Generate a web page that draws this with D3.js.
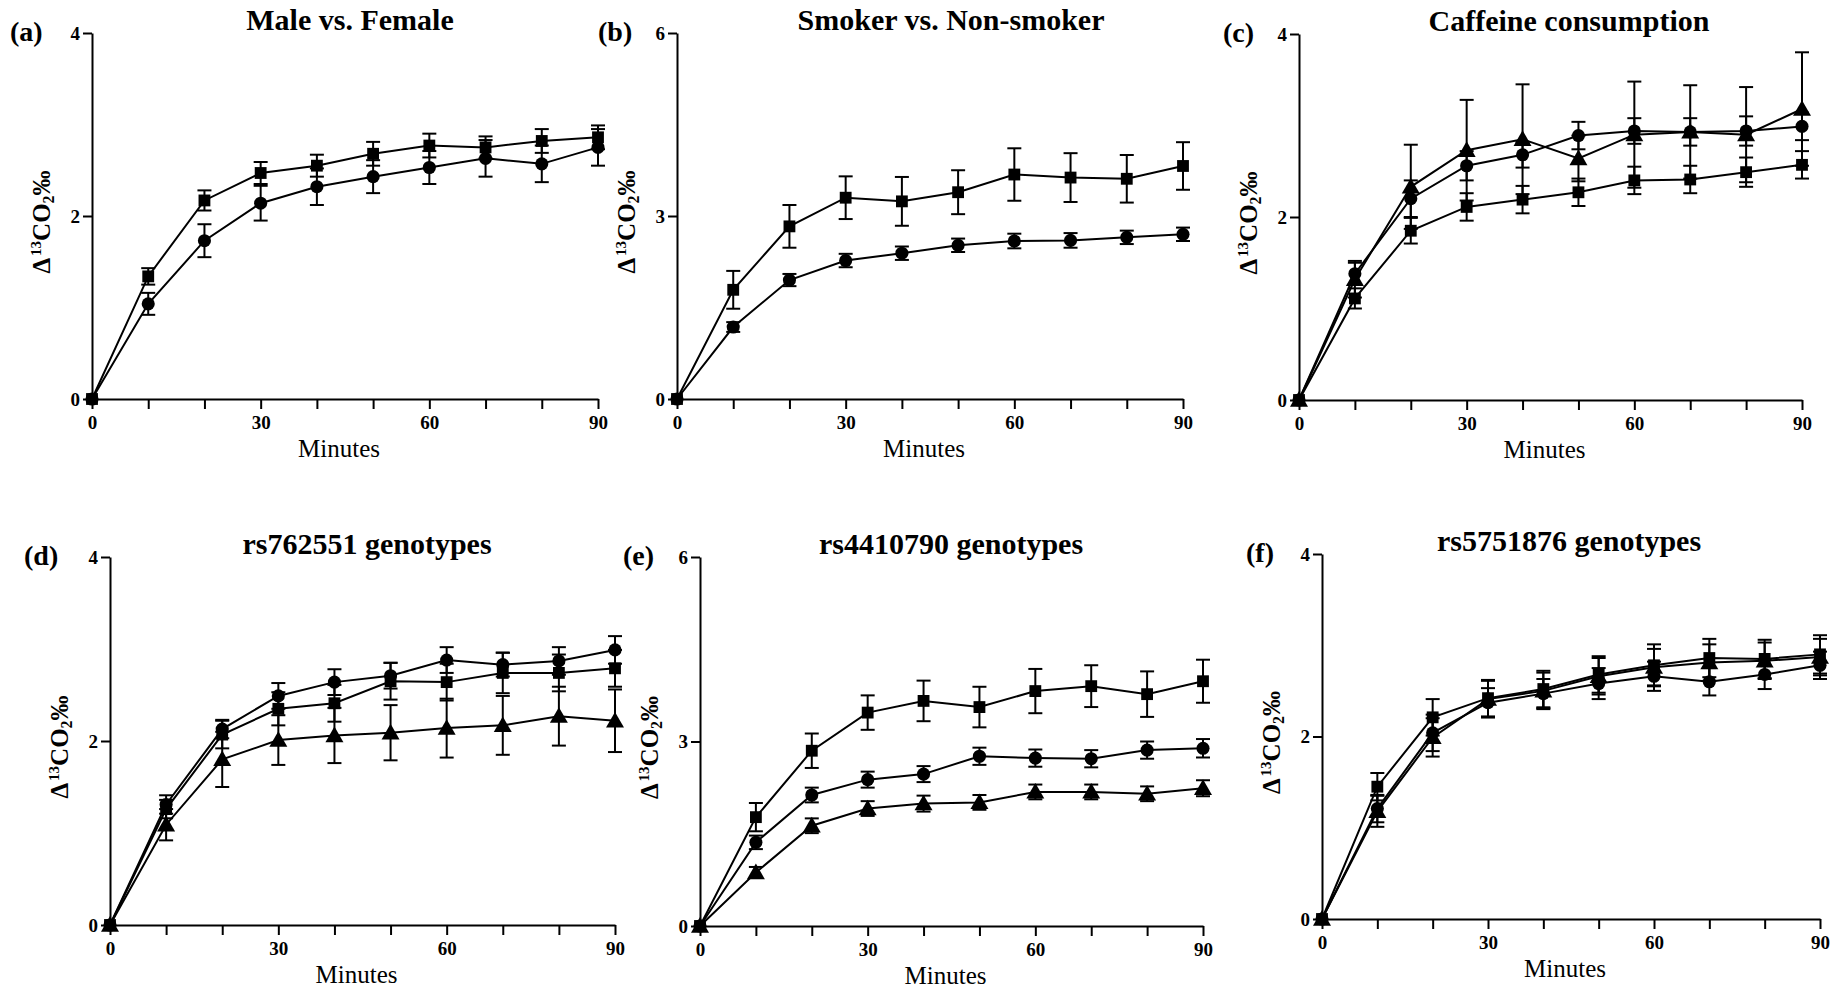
<!DOCTYPE html>
<html>
<head>
<meta charset="utf-8">
<script src="https://cdn.jsdelivr.net/npm/d3@7"></script>
<style>
  body { margin: 0; background: #fff; }
  text { font-family: "Liberation Serif", "Times New Roman", serif; }
</style>
</head>
<body>
<svg id="chart" width="1846" height="994"></svg>
<script>
// TIME POINTS (minutes)
const minutes = [0, 10, 20, 30, 40, 50, 60, 70, 80, 90];

// (a) Male vs. Female
const aSquareMean = [0, 1.34, 2.17, 2.47, 2.55, 2.68, 2.77, 2.75, 2.82, 2.86];
const aSquareErr  = [0, 0.09, 0.11, 0.12, 0.12, 0.13, 0.13, 0.12, 0.13, 0.13];
const aCircleMean = [0, 1.04, 1.73, 2.14, 2.32, 2.43, 2.53, 2.63, 2.57, 2.75];
const aCircleErr  = [0, 0.12, 0.18, 0.19, 0.20, 0.18, 0.18, 0.20, 0.20, 0.20];

// (b) Smoker vs. Non-smoker
const bSquareMean = [0, 1.79, 2.83, 3.30, 3.24, 3.39, 3.68, 3.63, 3.61, 3.82];
const bSquareErr  = [0, 0.31, 0.35, 0.35, 0.40, 0.36, 0.43, 0.40, 0.39, 0.39];
const bCircleMean = [0, 1.18, 1.95, 2.27, 2.39, 2.52, 2.59, 2.60, 2.65, 2.70];
const bCircleErr  = [0, 0.08, 0.10, 0.11, 0.11, 0.11, 0.12, 0.12, 0.11, 0.11];

// (c) Caffeine consumption
const cSquareMean   = [0, 1.11, 1.85, 2.11, 2.19, 2.27, 2.40, 2.41, 2.49, 2.57];
const cSquareErr    = [0, 0.11, 0.14, 0.15, 0.15, 0.15, 0.15, 0.15, 0.16, 0.15];
const cCircleMean   = [0, 1.38, 2.20, 2.56, 2.68, 2.89, 2.94, 2.93, 2.94, 2.99];
const cCircleErr    = [0, 0.12, 0.20, 0.16, 0.14, 0.15, 0.14, 0.15, 0.16, 0.15];
const cTriangleMean = [0, 1.32, 2.33, 2.73, 2.85, 2.64, 2.90, 2.93, 2.90, 3.18];
const cTriangleErr  = [0, 0.20, 0.46, 0.55, 0.60, 0.25, 0.58, 0.51, 0.52, 0.62];

// (d) rs762551 genotypes
const dCircleMean   = [0, 1.31, 2.13, 2.49, 2.64, 2.71, 2.88, 2.83, 2.87, 2.99];
const dCircleErr    = [0, 0.10, 0.10, 0.14, 0.14, 0.14, 0.14, 0.13, 0.15, 0.15];
const dSquareMean   = [0, 1.26, 2.07, 2.35, 2.41, 2.65, 2.64, 2.74, 2.74, 2.79];
const dSquareErr    = [0, 0.10, 0.15, 0.18, 0.20, 0.20, 0.20, 0.22, 0.20, 0.20];
const dTriangleMean = [0, 1.09, 1.80, 2.01, 2.06, 2.09, 2.14, 2.17, 2.27, 2.22];
const dTriangleErr  = [0, 0.17, 0.30, 0.27, 0.30, 0.30, 0.32, 0.32, 0.32, 0.34];

// (e) rs4410790 genotypes
const eSquareMean   = [0, 1.77, 2.85, 3.47, 3.66, 3.56, 3.82, 3.90, 3.77, 3.98];
const eSquareErr    = [0, 0.23, 0.28, 0.28, 0.33, 0.33, 0.36, 0.34, 0.37, 0.35];
const eCircleMean   = [0, 1.36, 2.13, 2.38, 2.47, 2.76, 2.73, 2.72, 2.86, 2.89];
const eCircleErr    = [0, 0.11, 0.12, 0.13, 0.13, 0.14, 0.14, 0.14, 0.14, 0.15];
const eTriangleMean = [0, 0.87, 1.63, 1.91, 1.99, 2.01, 2.18, 2.18, 2.15, 2.24];
const eTriangleErr  = [0, 0.09, 0.12, 0.12, 0.13, 0.12, 0.12, 0.12, 0.12, 0.13];

// (f) rs5751876 genotypes
const fSquareMean   = [0, 1.45, 2.21, 2.42, 2.52, 2.68, 2.78, 2.86, 2.85, 2.90];
const fSquareErr    = [0, 0.15, 0.20, 0.20, 0.20, 0.20, 0.23, 0.21, 0.21, 0.21];
const fCircleMean   = [0, 1.21, 2.04, 2.37, 2.47, 2.58, 2.66, 2.60, 2.68, 2.78];
const fCircleErr    = [0, 0.15, 0.20, 0.16, 0.16, 0.17, 0.16, 0.15, 0.16, 0.15];
const fTriangleMean = [0, 1.18, 1.99, 2.41, 2.50, 2.66, 2.76, 2.81, 2.83, 2.87];
const fTriangleErr  = [0, 0.17, 0.21, 0.20, 0.20, 0.20, 0.20, 0.20, 0.20, 0.20];

// TICK LABELS
const xTicks = [0, 10, 20, 30, 40, 50, 60, 70, 80, 90];
const xLabelled = [0, 30, 60, 90];

// PANEL LAYOUT (pixel boxes of each plot area)
const panels = [
  { tag: "(a)", title: "Male vs. Female", yMax: 4, left: 92, right: 598, top: 33, bottom: 399, titleX: 350, tagX: 10,
    series: [
      { shape: "square", mean: aSquareMean, err: aSquareErr },
      { shape: "circle", mean: aCircleMean, err: aCircleErr }] },
  { tag: "(b)", title: "Smoker vs. Non-smoker", yMax: 6, left: 677, right: 1183, top: 33, bottom: 399, titleX: 951, tagX: 598,
    series: [
      { shape: "square", mean: bSquareMean, err: bSquareErr },
      { shape: "circle", mean: bCircleMean, err: bCircleErr }] },
  { tag: "(c)", title: "Caffeine consumption", yMax: 4, left: 1299, right: 1802, top: 34, bottom: 400, titleX: 1569, tagX: 1223,
    series: [
      { shape: "square", mean: cSquareMean, err: cSquareErr },
      { shape: "circle", mean: cCircleMean, err: cCircleErr },
      { shape: "triangle", mean: cTriangleMean, err: cTriangleErr }] },
  { tag: "(d)", title: "rs762551 genotypes", yMax: 4, left: 110, right: 615, top: 557, bottom: 925, titleX: 367, tagX: 24,
    series: [
      { shape: "triangle", mean: dTriangleMean, err: dTriangleErr },
      { shape: "square", mean: dSquareMean, err: dSquareErr },
      { shape: "circle", mean: dCircleMean, err: dCircleErr }] },
  { tag: "(e)", title: "rs4410790 genotypes", yMax: 6, left: 700, right: 1203, top: 557, bottom: 926, titleX: 951, tagX: 623,
    series: [
      { shape: "square", mean: eSquareMean, err: eSquareErr },
      { shape: "circle", mean: eCircleMean, err: eCircleErr },
      { shape: "triangle", mean: eTriangleMean, err: eTriangleErr }] },
  { tag: "(f)", title: "rs5751876 genotypes", yMax: 4, left: 1322, right: 1820, top: 554, bottom: 919, titleX: 1569, tagX: 1246,
    series: [
      { shape: "triangle", mean: fTriangleMean, err: fTriangleErr },
      { shape: "circle", mean: fCircleMean, err: fCircleErr },
      { shape: "square", mean: fSquareMean, err: fSquareErr }] }
];

const svg = d3.select("#chart");

const symbolFor = {
  square: d3.symbol().type(d3.symbolSquare).size(140),
  circle: d3.symbol().type(d3.symbolCircle).size(135),
  triangle: d3.symbol().type(d3.symbolTriangle).size(140)
};

panels.forEach((p) => {
  const g = svg.append("g");

  const x = d3.scaleLinear().domain([0, 90]).range([p.left, p.right]);
  const y = d3.scaleLinear().domain([0, p.yMax]).range([p.bottom, p.top]);

  // AXES
  const xAxis = g.append("g")
    .attr("transform", `translate(0,${p.bottom})`)
    .call(d3.axisBottom(x).tickValues(xTicks).tickSize(10).tickSizeOuter(0)
      .tickFormat((d) => (xLabelled.includes(d) ? d : "")));
  const yAxis = g.append("g")
    .attr("transform", `translate(${p.left},0)`)
    .call(d3.axisLeft(y).tickValues([0, p.yMax / 2, p.yMax]).tickSize(9).tickSizeOuter(0)
      .tickFormat(d3.format("d")));

  [xAxis, yAxis].forEach((ax) => {
    ax.select(".domain").attr("stroke", "#000").attr("stroke-width", 2);
    ax.selectAll(".tick line").attr("stroke", "#000").attr("stroke-width", 2);
    ax.selectAll(".tick text")
      .attr("fill", "#000")
      .style("font-family", '"Liberation Serif", serif')
      .style("font-weight", "bold")
      .style("font-size", "19px");
  });
  xAxis.selectAll(".tick text").attr("dy", "0.95em").attr("y", 12);
  yAxis.selectAll(".tick text").attr("x", -12);

  // TITLE AND PANEL TAG
  g.append("text")
    .attr("x", p.titleX)
    .attr("y", p.top - 3)
    .attr("text-anchor", "middle")
    .style("font-weight", "bold")
    .style("font-size", "30px")
    .text(p.title);

  g.append("text")
    .attr("x", p.tagX)
    .attr("y", p.top + 8)
    .style("font-weight", "bold")
    .style("font-size", "28px")
    .text(p.tag);

  // AXIS TITLES
  g.append("text")
    .attr("x", (p.left + p.right) / 2 - 6)
    .attr("y", p.bottom + 58)
    .attr("text-anchor", "middle")
    .style("font-size", "25px")
    .text("Minutes");

  const yl = g.append("text")
    .attr("transform", `translate(${p.left - 42},${(p.top + p.bottom) / 2 + 6}) rotate(-90)`)
    .attr("text-anchor", "middle")
    .style("font-weight", "bold")
    .style("font-size", "25px");
  yl.append("tspan").text("Δ");
  yl.append("tspan").attr("dy", -9).attr("dx", 2).style("font-size", "15px").text("13");
  yl.append("tspan").attr("dy", 9).text("CO");
  yl.append("tspan").attr("dy", 4).style("font-size", "16px").text("2");
  yl.append("tspan").attr("dy", -4).text("‰");

  // SERIES
  const line = d3.line().x((d) => x(d.t)).y((d) => y(d.m));

  p.series.forEach((s) => {
    const pts = minutes.map((t, i) => ({ t, m: s.mean[i], e: s.err[i] }));
    const sg = g.append("g");

    // error bars
    const eb = sg.selectAll(".err").data(pts.filter((d) => d.e > 0)).enter().append("g");
    eb.append("line")
      .attr("x1", (d) => x(d.t)).attr("x2", (d) => x(d.t))
      .attr("y1", (d) => y(d.m - d.e)).attr("y2", (d) => y(d.m + d.e))
      .attr("stroke", "#000").attr("stroke-width", 2);
    [-1, 1].forEach((k) => {
      eb.append("line")
        .attr("x1", (d) => x(d.t) - 7).attr("x2", (d) => x(d.t) + 7)
        .attr("y1", (d) => y(d.m + k * d.e)).attr("y2", (d) => y(d.m + k * d.e))
        .attr("stroke", "#000").attr("stroke-width", 2);
    });

    sg.append("path")
      .datum(pts)
      .attr("d", line)
      .attr("fill", "none")
      .attr("stroke", "#000")
      .attr("stroke-width", 2);

    sg.selectAll(".pt").data(pts).enter().append("path")
      .attr("transform", (d) => `translate(${x(d.t)},${y(d.m) + (s.shape === "triangle" ? 1.5 : 0)})`)
      .attr("d", symbolFor[s.shape])
      .attr("fill", "#000");
  });
});
</script>
</body>
</html>
